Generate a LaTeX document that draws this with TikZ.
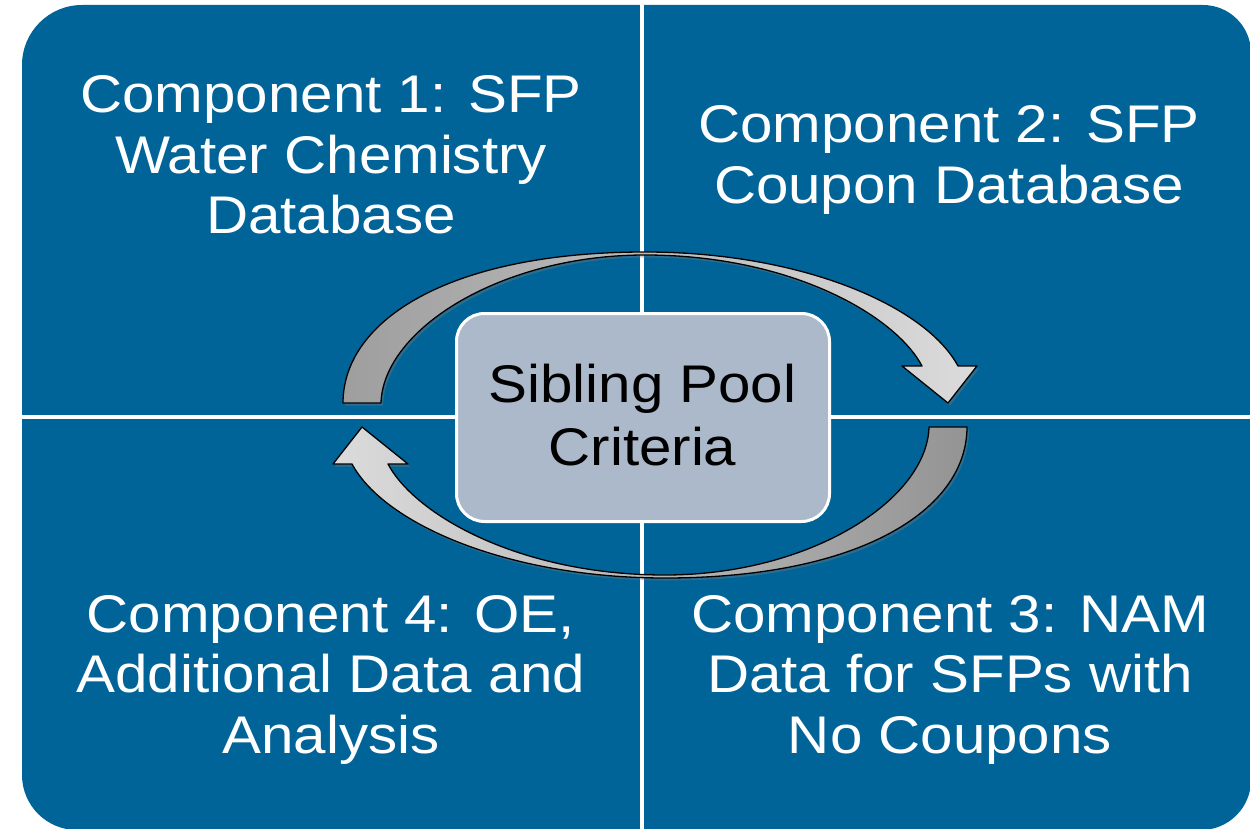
\documentclass[tikz,border=0pt]{standalone}
\usepackage{fontspec}
\setmainfont[FakeStretch=1.1]{Liberation Sans}
\usetikzlibrary{shadows}
\definecolor{quadblue}{RGB}{0,100,152}
\definecolor{centerfill}{RGB}{172,185,202}
\begin{document}
\begin{tikzpicture}[x=1pt,y=-1pt,
  quadtext/.style={anchor=base, inner sep=0pt, text=white, font=\fontsize{53}{60.5}\selectfont},
  centertext/.style={anchor=base, inner sep=0pt, text=black, font=\fontsize{53}{63}\selectfont},
  cycarrow/.style={draw=black, line width=1.3pt, line join=round,
    drop shadow={shadow xshift=2pt, shadow yshift=-2.5pt, opacity=0.35}},
  divider/.style={white, line width=4pt},
]
\useasboundingbox (0,0) rectangle (1250,829);
% blue quadrant field
\fill[quadblue] (22,65) arc[start angle=180,end angle=270,radius=60]
  -- (1203,5) arc[start angle=270,end angle=360,radius=48]
  -- (1251,780) arc[start angle=0,end angle=90,radius=50]
  -- (77,830) arc[start angle=90,end angle=180,radius=55] -- cycle;
% dividers
\draw[divider] (642,0) -- (642,835);
\draw[divider] (15,417) -- (1256,417);
% top cycle arrow
\path[cycarrow, left color=black!38, right color=black!14]
  (343,403) .. controls (343,320) and (450,252) .. (645,252)
  .. controls (800,252) and (925,305) .. (958,366)
  -- (977,366) -- (948,403) -- (902,366) -- (922,366)
  .. controls (895,315) and (790,255) .. (645,255)
  .. controls (500,255) and (383,330) .. (381,403) -- cycle;
% bottom cycle arrow
\path[cycarrow, left color=black!14, right color=black!42]
  (967,427) .. controls (967,510) and (860,578) .. (665,578)
  .. controls (510,578) and (385,525) .. (352,464)
  -- (333,464) -- (362,427) -- (408,464) -- (388,464)
  .. controls (415,515) and (520,575) .. (665,575)
  .. controls (810,575) and (927,500) .. (929,427) -- cycle;
% center box
\node (centerbox) [draw=white, line width=3pt, fill=centerfill, rounded corners=28pt,
  minimum width=373pt, minimum height=208pt, inner sep=0pt] at (643,417.5) {};
\node (centerlabel) [centertext] at (642.5,402)
  {\begin{tabular}[t]{@{}c@{}}Sibling Pool\\Criteria\end{tabular}};
% quadrant labels
\node (c1) [quadtext] at (331,113)
  {\begin{tabular}[t]{@{}c@{}}Component 1: SFP\\Water Chemistry\\Database\end{tabular}};
\node (c2) [quadtext] at (949,143)
  {\begin{tabular}[t]{@{}c@{}}Component 2: SFP\\Coupon Database\end{tabular}};
\node (c4) [quadtext] at (331,632)
  {\begin{tabular}[t]{@{}c@{}}Component 4: OE,\\Additional Data and\\Analysis\end{tabular}};
\node (c3) [quadtext] at (950,632)
  {\begin{tabular}[t]{@{}c@{}}Component 3: NAM\\Data for SFPs with\\No Coupons\end{tabular}};
\end{tikzpicture}
\end{document}
